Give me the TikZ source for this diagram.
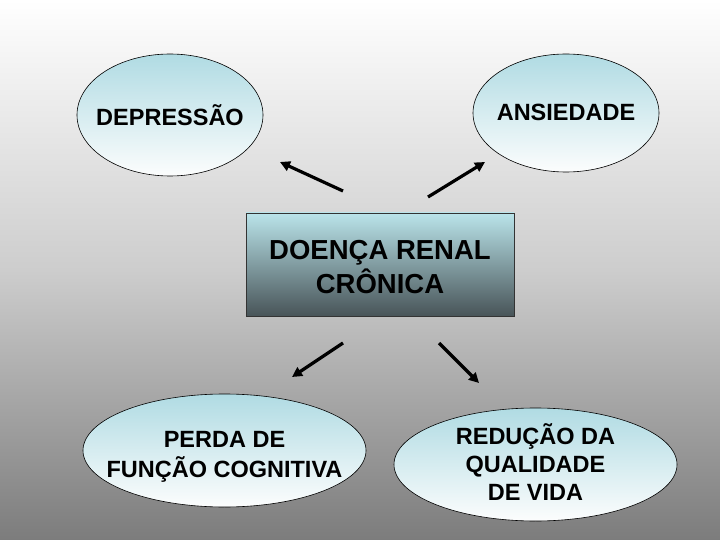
\documentclass[tikz,border=0pt]{standalone}
\usepackage{fontspec}
\setmainfont{Liberation Sans}
\usetikzlibrary{shapes.geometric,arrows.meta}
\definecolor{elltop}{RGB}{176,219,227}
\definecolor{ellbot}{RGB}{252,253,253}
\definecolor{boxtop}{RGB}{186,228,234}
\definecolor{boxbot}{RGB}{72,84,88}
\definecolor{bgmid}{RGB}{205,205,205}
\definecolor{bgbot}{RGB}{124,124,124}
\newcommand{\zerobox}[2]{\makebox[0pt]{\smash{\raisebox{#1}{\begin{tabular}{@{}c@{}}#2\end{tabular}}}}}
\tikzset{
  bubble/.style={ellipse, draw=black, line width=0.6pt, top color=elltop, bottom color=ellbot,
    inner sep=0pt, font=\bfseries\fontsize{23.5}{28}\selectfont},
  mainbox/.style={rectangle, draw=black!80, line width=0.6pt, top color=boxtop, bottom color=boxbot,
    inner sep=0pt, minimum width=268pt, minimum height=103pt,
    font=\bfseries\fontsize{27.5}{33}\selectfont},
  arr/.style={line width=3.2pt, -{Triangle[length=10pt,width=10pt]}}
}
\begin{document}
\begin{tikzpicture}[x=1pt,y=1pt]
\shade[top color=white, bottom color=bgbot, middle color=bgmid] (0,-540) rectangle (720,0);
\useasboundingbox (0,-540) rectangle (720,0);
\node[bubble, minimum width=186pt, minimum height=122pt] (dep) at (170,-115) {\zerobox{-10.5pt}{DEPRESSÃO}};
\node[bubble, minimum width=186pt, minimum height=118pt] (ans) at (566,-113) {\zerobox{-8.5pt}{ANSIEDADE}};
\node[mainbox] (drc) at (380,-264.5) {\zerobox{-11.5pt}{DOENÇA RENAL\\CRÔNICA}};
\node[bubble, minimum width=283pt, minimum height=113pt] (perda) at (224.5,-450.5) {\zerobox{-12.5pt}{PERDA DE\\FUNÇÃO COGNITIVA}};
\node[bubble, minimum width=283pt, minimum height=113pt] (red) at (535.5,-464.5) {\zerobox{-8pt}{REDUÇÃO DA\\QUALIDADE\\DE VIDA}};
\coordinate (s1) at (343,-191); \coordinate (e1) at (280,-162);
\coordinate (s2) at (428,-197); \coordinate (e2) at (485,-162);
\coordinate (s3) at (343,-343); \coordinate (e3) at (292,-377);
\coordinate (s4) at (439,-343); \coordinate (e4) at (479,-383);
\draw[arr] (s1) -- (e1);
\draw[arr] (s2) -- (e2);
\draw[arr] (s3) -- (e3);
\draw[arr] (s4) -- (e4);
\end{tikzpicture}
\end{document}
